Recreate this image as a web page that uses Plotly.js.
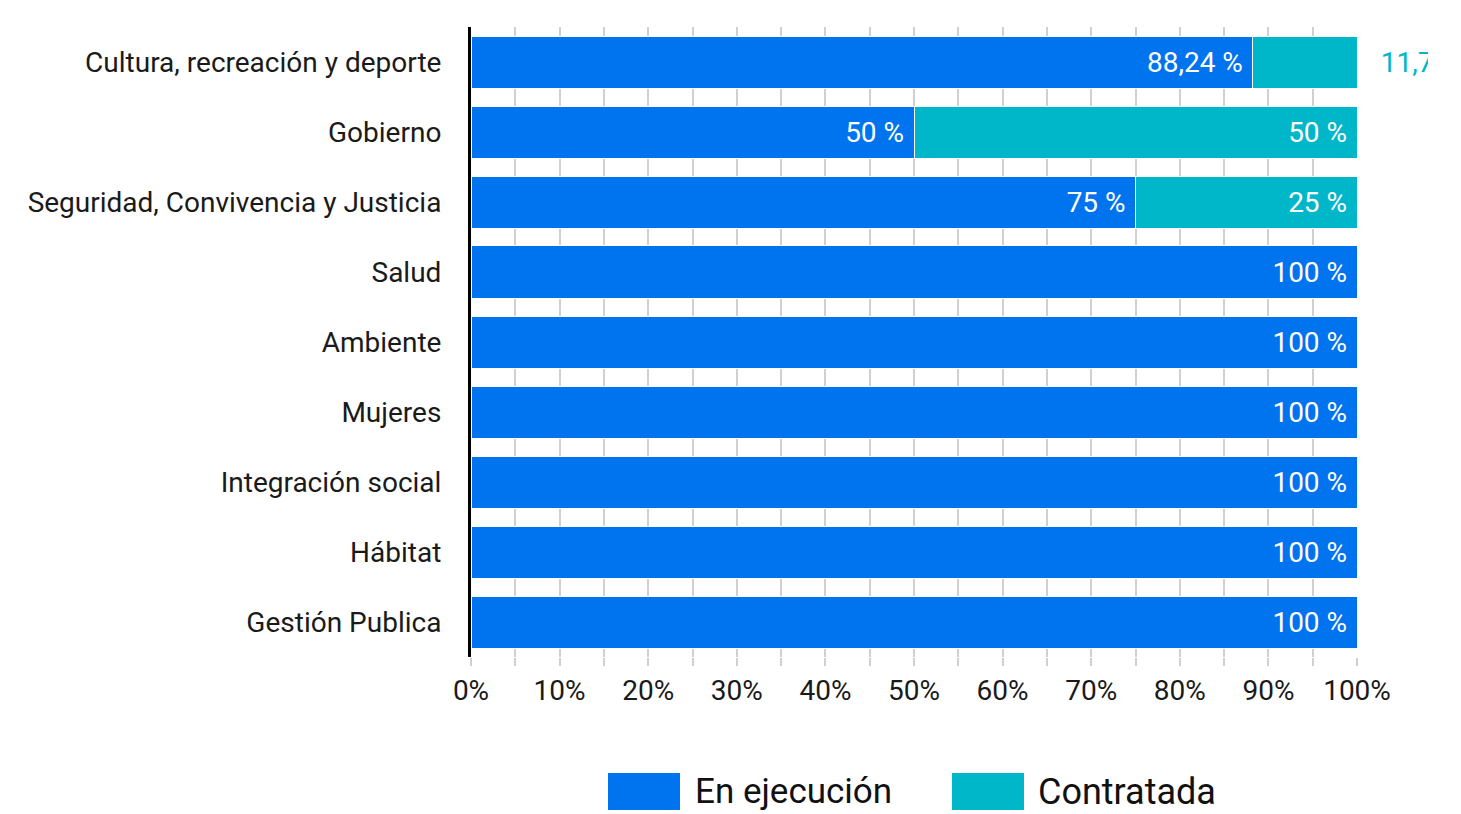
<!DOCTYPE html>
<html><head><meta charset="utf-8">
<script src="https://cdn.plot.ly/plotly-3.0.1.min.js"></script>
<style>html,body{margin:0;padding:0;background:#fff;}#chart{width:1428px;height:814px;overflow:hidden;}</style>
</head><body><div id="chart"></div>
<script>
const categories = ["Cultura, recreación y deporte","Gobierno","Seguridad, Convivencia y Justicia","Salud","Ambiente","Mujeres","Integración social","Hábitat","Gestión Publica"];
const enEjecucion = [88.24, 50, 75, 100, 100, 100, 100, 100, 100];
const contratada = [11.76, 50, 25, 0, 0, 0, 0, 0, 0];
const seriesNames = ["En ejecución", "Contratada"];
const xTickVals = [0,10,20,30,40,50,60,70,80,90,100];
const xTickText = ["0%","10%","20%","30%","40%","50%","60%","70%","80%","90%","100%"];

const BLUE = "#0073EE", TEAL = "#00B7CA";
const FONT = "Roboto, 'Noto Sans', sans-serif";
const NB = '\u00a0';
const isOutside = v => v > 0 && v < 20;
const fmt = v => v > 0 ? (isOutside(v) ? NB + NB + NB : '') + String(v).replace('.', ',') + ' %' + (isOutside(v) ? '' : NB) : '';

const traces = [
  {type:'bar', orientation:'h', name:seriesNames[0], y:categories, x:enEjecucion,
   marker:{color:BLUE, line:{color:'#ffffff', width:1}}, text:enEjecucion.map(fmt),
   textposition:'inside', insidetextanchor:'end', constraintext:'none',
   textfont:{family:FONT, size:28, color:'#ffffff'}, cliponaxis:false, hoverinfo:'x+y'},
  {type:'bar', orientation:'h', name:seriesNames[1], y:categories, x:contratada,
   marker:{color:TEAL, line:{color:'#ffffff', width:1}}, text:contratada.map(fmt),
   textposition:contratada.map(v => isOutside(v) ? 'outside' : 'inside'),
   insidetextanchor:'end', constraintext:'none',
   insidetextfont:{family:FONT, size:28, color:'#ffffff'},
   outsidetextfont:{family:FONT, size:28, color:TEAL}, cliponaxis:false, hoverinfo:'x+y'}
];

const x0 = 471, x1 = 1357, yTop = 27, yBot = 657;
const W = 1428, H = 814;
const px = p => (p - x0) / (x1 - x0);
const py = p => (yBot - p) / (yBot - yTop);

const layout = {
  width: W, height: H,
  margin:{l:x0, r:W - x1, t:yTop, b:H - yBot, pad:0},
  paper_bgcolor:'#ffffff', plot_bgcolor:'#ffffff',
  barmode:'stack', bargap:0.257,
  showlegend:false,
  font:{family:FONT, color:'#1a1a1a'},
  xaxis:{range:[0,100], fixedrange:true, tickvals:xTickVals, ticktext:xTickText,
    showgrid:true, gridcolor:'#d0d0d0', gridwidth:2,
    ticks:'outside', ticklen:8, tickwidth:2, tickcolor:'#d0d0d0',
    minor:{dtick:5, tick0:0, showgrid:true, gridcolor:'#d0d0d0', gridwidth:2, ticks:'outside', ticklen:8, tickwidth:2, tickcolor:'#d0d0d0'},
    tickfont:{family:FONT, size:28, color:'#1a1a1a'}, zeroline:false, showline:false},
  yaxis:{autorange:'reversed', fixedrange:true, showline:true, linecolor:'#000000', linewidth:3,
    showgrid:false, ticks:'', ticklabelstandoff:21,
    tickfont:{family:FONT, size:28, color:'#1a1a1a'}},
  shapes:[
    {type:'rect', xref:'paper', yref:'paper', x0:px(608), x1:px(680), y0:py(810), y1:py(773), fillcolor:BLUE, line:{width:0}},
    {type:'rect', xref:'paper', yref:'paper', x0:px(952), x1:px(1024), y0:py(810), y1:py(773), fillcolor:TEAL, line:{width:0}}
  ],
  annotations:[
    {xref:'paper', yref:'paper', x:px(693), y:py(792), xanchor:'left', yanchor:'middle', showarrow:false, text:seriesNames[0], font:{family:FONT, size:35, color:'#111111'}},
    {xref:'paper', yref:'paper', x:px(1036), y:py(792), xanchor:'left', yanchor:'middle', showarrow:false, text:seriesNames[1], font:{family:FONT, size:36, color:'#111111'}}
  ]
};
Plotly.newPlot('chart', traces, layout, {displayModeBar:false});
</script></body></html>
